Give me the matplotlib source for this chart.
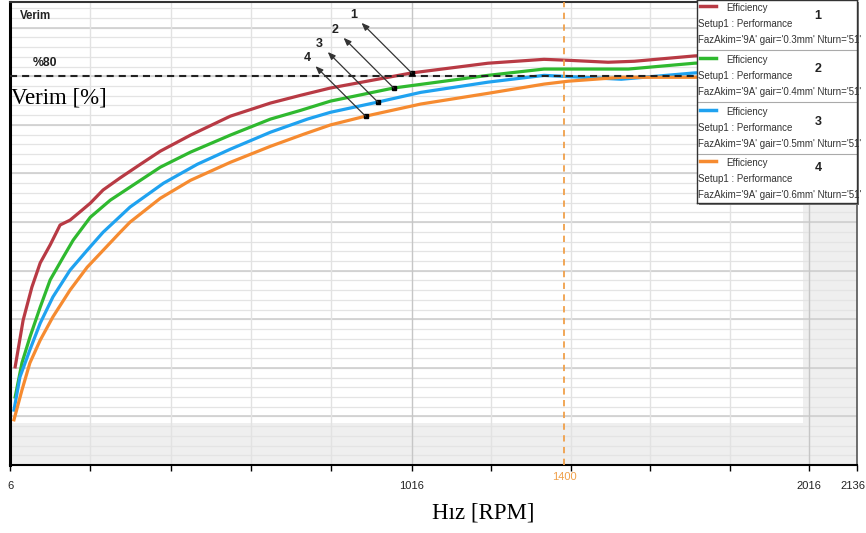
import numpy as np
import matplotlib.pyplot as plt
from matplotlib.patches import Rectangle
from matplotlib.transforms import ScaledTranslation

plt.rcParams['font.family'] = ['Liberation Sans', 'DejaVu Sans']

# efficiency curves (RPM, %)
rpm_red = [19, 39, 61, 82, 107, 132, 157, 182, 208, 240, 283, 334, 384, 460, 560, 661, 737,
           812, 1016, 1208, 1349, 1410, 1510, 1576, 1727, 1870, 2000]
eff_red = [20.2, 29.8, 36.6, 41.6, 45.3, 49.4, 50.4, 52.1, 53.9, 56.6, 59.1, 61.9, 64.6, 67.9,
           71.8, 74.5, 76.1, 77.6, 80.7, 82.7, 83.5, 83.3, 82.9, 83.1, 84.2, 84.7, 85.1]

rpm_green = [19, 36, 56, 82, 107, 140, 165, 208, 258, 308, 384, 460, 560, 661, 737, 812, 971,
             1208, 1349, 1561, 1727, 1870, 2000]
eff_green = [14.0, 21.0, 26.3, 32.5, 38.1, 42.8, 46.3, 51.0, 54.5, 57.2, 61.3, 64.4, 67.9, 71.2,
             73.0, 74.9, 77.6, 80.2, 81.5, 81.5, 82.7, 83.2, 83.6]

rpm_blue = [16, 31, 56, 82, 114, 157, 200, 240, 308, 392, 477, 560, 661, 754, 812, 931, 1039,
            1208, 1349, 1543, 1727, 1870, 2000]
eff_blue = [11.3, 18.1, 23.7, 29.2, 34.6, 40.1, 44.2, 47.9, 53.1, 58.0, 61.9, 65.0, 68.5, 71.2,
            72.6, 74.7, 76.7, 78.8, 80.2, 79.4, 80.7, 81.3, 81.8]

rpm_orange = [16, 36, 56, 82, 114, 157, 200, 283, 308, 384, 460, 560, 661, 745, 812, 900, 1039,
              1208, 1349, 1410, 1543, 1727, 1870, 2000]
eff_orange = [9.3, 15.4, 21.0, 25.7, 30.5, 36.0, 40.7, 47.9, 50.0, 54.9, 58.6, 62.3, 65.6, 68.1,
              70.0, 71.8, 74.3, 76.5, 78.4, 79.0, 79.8, 79.8, 80.2, 80.6]

gair = ['0.3mm', '0.4mm', '0.5mm', '0.6mm']
colors = ['#b83a44', '#2fb92f', '#1fa2f0', '#f68b30']
annot_rpm = [1016, 971, 931, 900]

x_ticks = [6, 208, 410, 612, 814, 1016, 1216, 1416, 1616, 1816, 2016, 2136]
x_labels = ['6', '', '', '', '', '1016', '', '', '', '', '2016', '2136']
y_major = np.arange(0, 100, 10)
y_minor = np.arange(0, 96, 2)

series = [(rpm_red, eff_red), (rpm_green, eff_green), (rpm_blue, eff_blue), (rpm_orange, eff_orange)]

fig = plt.figure(figsize=(8.66, 5.33), dpi=100)
ax = fig.add_axes([10/866, 68/533, 847/866, 463/533])
ax.set_xlim(6, 2136)
ax.set_ylim(0, 95.3)
ax.set_facecolor('#efefef')
ax.add_patch(Rectangle((6, 8.6), 1994, 100, facecolor='white', edgecolor='none', zorder=0.2))

for v in y_minor:
    ax.axhline(v, color='#e4e4e4', lw=0.9, zorder=0.5)
for v in y_major:
    ax.axhline(v, color='#cfcfcf', lw=1.2, zorder=0.6)
for t in x_ticks[1:-1]:
    c = '#c6c6c6' if t in (1016, 2016) else '#e2e2e2'
    ax.axvline(t, color=c, lw=1.0, zorder=0.6)

for (x, y), c in zip(series, colors):
    ax.plot(x, y, color=c, lw=2.3, zorder=3, solid_joinstyle='round')

ax.axhline(80, color='#222222', ls=(0, (3.4, 2.4)), lw=1.5, zorder=4)
ax.axvline(1400, color='#f0a04a', ls=(0, (3.5, 3)), lw=1.3, zorder=4)

for k, ((x, y), c) in enumerate(zip(series, colors)):
    tx = annot_rpm[k]
    ty = np.interp(tx, x, y)
    ax.plot(tx, ty, 's', ms=3, color='black', zorder=6)
    ax.annotate(str(k + 1), xy=(tx, ty), xytext=(-42, 42), textcoords='offset points',
                ha='center', va='center', fontsize=9, fontweight='bold', color='#222',
                arrowprops=dict(arrowstyle='<|-,head_length=0.5,head_width=0.2',
                                color='#333', lw=0.9, shrinkA=2, shrinkB=0), zorder=6)

ax.set_xticks(x_ticks)
ax.set_xticklabels(x_labels)
ax.tick_params(axis='x', length=4.5, width=1, pad=7, labelsize=8, labelcolor='#222', color='black')
ax.tick_params(axis='y', left=False, labelleft=False)
last = ax.get_xticklabels()[-1]
last.set_transform(last.get_transform() + ScaledTranslation(-4/100, 0, fig.dpi_scale_trans))
ax.text(1400, -2.5, '1400', color='#f0a04a', fontsize=8, ha='center', va='center', clip_on=False)

ax.spines['left'].set_linewidth(2.2)
ax.spines['bottom'].set_linewidth(1.5)
ax.spines['top'].set_linewidth(1.5)
ax.spines['top'].set_color('#333')
ax.spines['right'].set_color('#555')
ax.spines['right'].set_linewidth(1.2)

fig.text(20/866, 1 - 16/533, 'Verim', fontsize=8.3, fontweight='bold', va='center', color='#222')
fig.text(33/866, 1 - 63/533, '%80', fontsize=8.8, fontweight='bold', va='center', color='#222')
fig.text(11/866, 1 - 98/533, 'Verim [%]', family='Liberation Serif', fontsize=16.5, va='center')
fig.text(483/866, 1 - 513/533, 'Hız [RPM]', family='Liberation Serif', fontsize=16.5,
         ha='center', va='center')

# legend box drawn by hand, like the source tool
fig.patches.append(Rectangle((699/866, 1 - 205/533), 160/866, 203/533, transform=fig.transFigure,
                             facecolor='#777', edgecolor='none', zorder=2))
lax = fig.add_axes([697/866, 1 - 203/533, 160/866, 203/533])
lax.set_zorder(3)
lax.set_xlim(0, 160)
lax.set_ylim(203, 0)
lax.set_xticks([])
lax.set_yticks([])
for s in lax.spines.values():
    s.set_color('#333')
    s.set_linewidth(1)
entry_y = [0, 52, 104, 155]
num_dy = [16, 17, 18, 13]
for k, c in enumerate(colors):
    b = entry_y[k]
    lax.plot([3, 19], [b + 6, b + 6], color=c, lw=2.5)
    lax.text(29, b + 8, 'Efficiency', fontsize=7, va='center', color='#333', clip_on=False)
    lax.text(1, b + 24, 'Setup1 : Performance', fontsize=7, va='center', color='#333', clip_on=False)
    lax.text(1, b + 40, "FazAkim='9A' gair='%s' Nturn='51'" % gair[k], fontsize=7,
             va='center', color='#333', clip_on=False)
    lax.text(121, b + num_dy[k], str(k + 1), fontsize=9, fontweight='bold', va='center',
             ha='center', color='#222')
    if k < 3:
        lax.axhline(b + 50, color='#aaa', lw=0.8)

fig.savefig('out.png', dpi=100)
